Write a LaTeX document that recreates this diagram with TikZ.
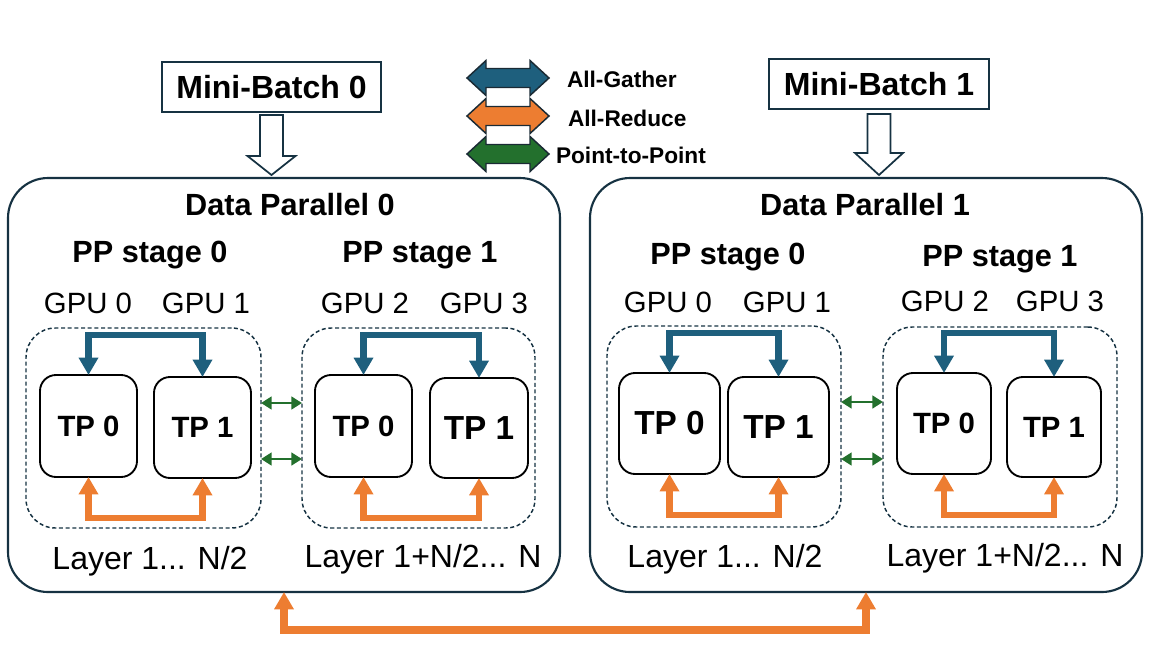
\documentclass[tikz,border=0pt]{standalone}
\usepackage{fontspec}
\setmainfont{Liberation Sans}
\usetikzlibrary{arrows.meta,calc}
\definecolor{cblue}{RGB}{30,95,125}
\definecolor{corange}{RGB}{237,125,49}
\definecolor{cgreen}{RGB}{35,112,45}
\definecolor{cnavy}{RGB}{22,50,66}
\definecolor{clegline}{RGB}{26,42,52}
\newcommand{\fsz}[1]{\fontsize{#1}{#1}\selectfont}
\begin{document}
\begin{tikzpicture}[x=0.75pt,y=-0.75pt,
  every node/.style={inner sep=0pt, outer sep=0pt},
  dpbox/.style={draw=cnavy, line width=1.6pt, rounded corners=30pt, minimum width=414pt, minimum height=310.5pt},
  dashbox/.style={draw=cnavy, line width=1.1pt, dash pattern=on 3pt off 2pt, rounded corners=22pt},
  tpbox/.style={draw=black, line width=1.4pt, rounded corners=12pt, fill=white},
  mbbox/.style={draw=cnavy, line width=1.3pt, minimum height=37.5pt},
  hollow/.style={draw=cnavy, line width=1.3pt, fill=white, line join=miter},
  gath/.style={draw=cblue, line width=4.6pt, {Triangle[length=13pt,width=14pt]}-{Triangle[length=13pt,width=14pt]}},
  redu/.style={draw=corange, line width=4.6pt, {Triangle[length=13pt,width=14pt]}-{Triangle[length=13pt,width=14pt]}},
  bigredu/.style={draw=corange, line width=6pt, {Triangle[length=13pt,width=14pt]}-{Triangle[length=13pt,width=14pt]}},
  ptp/.style={draw=cgreen, line width=2.2pt, {Triangle[length=8pt,width=9.5pt]}-{Triangle[length=8pt,width=9.5pt]}},
  legarrow/.style={draw=clegline, line width=1.1pt, line join=miter},
  title/.style={font=\bfseries\fsz{23pt}, anchor=base},
  gpu/.style={font=\fsz{22pt}, anchor=base},
  layer/.style={font=\fsz{24pt}, anchor=base},
  legtxt/.style={font=\bfseries\fsz{17pt}, anchor=base west}
]
\useasboundingbox (0,0) rectangle (1163,654);

% Data parallel boxes
\node[dpbox] (dp0) at (284,385) {};
\node[dpbox] (dp1) at (866,385) {};
\node[title] (dpt0) at (290,215) {Data Parallel 0};
\node[title] (dpt1) at (865,215) {Data Parallel 1};

% Mini-batches
\node[mbbox, minimum width=164.25pt, font=\bfseries\fsz{24pt}] (mb0) at (271.5,87) {Mini-Batch 0};
\node[mbbox, minimum width=165pt, font=\bfseries\fsz{24pt}] (mb1) at (879,84) {Mini-Batch 1};
\coordinate (t0) at (mb0.south |- dp0.north);
\coordinate (t1) at (mb1.south |- dp1.north);
\draw[hollow] ($(mb0.south)+(-11.5,3)$) -- ($(mb0.south)+(11.5,3)$) -- ($(mb0.south)+(11.5,44)$) -- ($(mb0.south)+(24,44)$) -- ($(t0)+(0,-3)$) -- ($(mb0.south)+(-24,44)$) -- ($(mb0.south)+(-11.5,44)$) -- cycle;
\draw[hollow] ($(mb1.south)+(-11.5,5)$) -- ($(mb1.south)+(11.5,5)$) -- ($(mb1.south)+(11.5,44)$) -- ($(mb1.south)+(24,44)$) -- ($(t1)+(0,-3)$) -- ($(mb1.south)+(-24,44)$) -- ($(mb1.south)+(-11.5,44)$) -- cycle;

% Legend
\foreach \yc/\col in {78/cblue,116/corange,154/cgreen}{
  \draw[legarrow, fill=\col] (467,\yc) -- (486,\yc-17.5) -- (486,\yc-9.5) -- (530,\yc-9.5) -- (530,\yc-17.5) -- (549,\yc) -- (530,\yc+17.5) -- (530,\yc+9.5) -- (486,\yc+9.5) -- (486,\yc+17.5) -- cycle;
}
\node[legtxt] (lg1) at (567,87) {All-Gather};
\node[legtxt] (lg2) at (568,126) {All-Reduce};
\node[legtxt] (lg3) at (556,163) {Point-to-Point};

% PP stage titles
\node[title] (pp00) at (150,262) {PP stage 0};
\node[title] (pp01) at (420,262) {PP stage 1};
\node[title] (pp10) at (728,264) {PP stage 0};
\node[title] (pp11) at (1000,266) {PP stage 1};

% GPU labels
\node[gpu] (g00) at (88,313) {GPU 0};
\node[gpu] (g01) at (206,313) {GPU 1};
\node[gpu] (g02) at (365,313) {GPU 2};
\node[gpu] (g03) at (484,313) {GPU 3};
\node[gpu] (g10) at (668,312) {GPU 0};
\node[gpu] (g11) at (787,312) {GPU 1};
\node[gpu] (g12) at (945,311) {GPU 2};
\node[gpu] (g13) at (1060,311) {GPU 3};

% dashed stage boxes
\node[dashbox, minimum width=176.25pt, minimum height=150pt] (d00) at (143.5,428) {};
\node[dashbox, minimum width=174.75pt, minimum height=150pt] (d01) at (418.5,428) {};
\node[dashbox, minimum width=175.5pt, minimum height=150.75pt] (d10) at (724,426.5) {};
\node[dashbox, minimum width=175.5pt, minimum height=150pt] (d11) at (1000,427) {};

% TP boxes
\node[tpbox, minimum width=72.75pt, minimum height=76.5pt, font=\bfseries\fsz{22pt}] (s00a) at (88.5,426) {TP 0};
\node[tpbox, minimum width=72.75pt, minimum height=75.75pt, font=\bfseries\fsz{22pt}] (s00b) at (202.5,427.5) {TP 1};
\node[tpbox, minimum width=72.75pt, minimum height=76.5pt, font=\bfseries\fsz{22pt}] (s01a) at (363.5,426) {TP 0};
\node[tpbox, minimum width=73.5pt, minimum height=75pt, font=\bfseries\fsz{25pt}] (s01b) at (479,428) {TP 1};
\node[tpbox, minimum width=75.75pt, minimum height=75.75pt, font=\bfseries\fsz{25pt}] (s10a) at (669.5,423.5) {TP 0};
\node[tpbox, minimum width=75.75pt, minimum height=75pt, font=\bfseries\fsz{25pt}] (s10b) at (778.5,427) {TP 1};
\node[tpbox, minimum width=70.5pt, minimum height=75.75pt, font=\bfseries\fsz{22pt}] (s11a) at (944,423.5) {TP 0};
\node[tpbox, minimum width=70.5pt, minimum height=75pt, font=\bfseries\fsz{22pt}] (s11b) at (1054,427) {TP 1};

% All-gather (blue) and all-reduce (orange) within stages
\foreach \a/\b in {s00a/s00b,s01a/s01b,s10a/s10b,s11a/s11b}{
  \draw[gath] (\a.north) -- ($(\a.north)+(0,-40)$) -| (\b.north);
  \draw[redu] (\a.south) -- ($(\a.south)+(0,41)$) -| (\b.south);
}

% Point-to-point between stages
\draw[ptp] (d00.east |- 0,403) -- (d01.west |- 0,403);
\draw[ptp] (d00.east |- 0,459) -- (d01.west |- 0,459);
\draw[ptp] (d10.east |- 0,402) -- (d11.west |- 0,402);
\draw[ptp] (d10.east |- 0,459) -- (d11.west |- 0,459);

% Layer labels
\node[layer] (l00) at (150,569) {Layer 1... N/2};
\node[layer] (l01) at (423,567) {Layer 1+N/2... N};
\node[layer] (l10) at (725,567) {Layer 1... N/2};
\node[layer] (l11) at (1005,566) {Layer 1+N/2... N};

% All-reduce between data-parallel groups
\draw[bigredu] (dp0.south) -- ($(dp0.south)+(0,38)$) -| (dp1.south);
\end{tikzpicture}
\end{document}
